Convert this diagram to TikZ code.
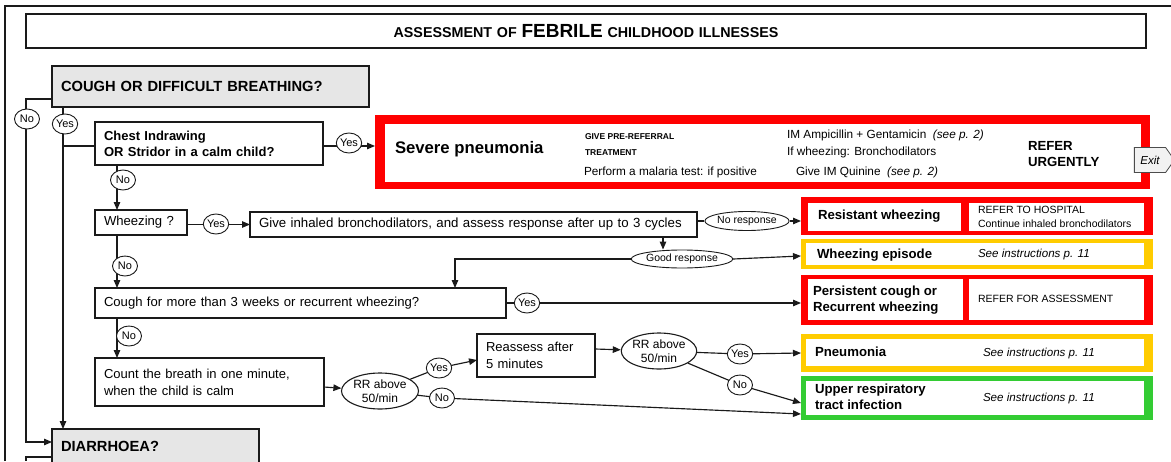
\documentclass[tikz,border=0pt]{standalone}
\usepackage{fontspec}
\setmainfont{Liberation Sans}
\usetikzlibrary{shapes.geometric,shapes.symbols,arrows.meta}
\definecolor{ln}{HTML}{1A1A1A}
\definecolor{gbox}{HTML}{E6E6E6}
\definecolor{rd}{HTML}{FF0000}
\definecolor{yl}{HTML}{FFCC00}
\definecolor{grn}{HTML}{33CC33}
\begin{document}
\begin{tikzpicture}[x=1pt,y=-1pt,
  qbox/.style={draw=ln, line width=1.2pt, fill=white, anchor=north west, inner xsep=9pt, inner ysep=0pt, outer sep=0pt, align=left, font=\fontsize{13.1}{16.5}\selectfont},
  lab/.style={ellipse, draw=ln, line width=0.9pt, fill=white, inner sep=0pt, minimum width=25pt, minimum height=20pt, font=\fontsize{11}{11}\selectfont},
  oval/.style={ellipse, draw=ln, line width=1.1pt, fill=white, inner sep=0pt, align=center},
  con/.style={draw=ln, line width=1.15pt},
  arr/.style={con, -{Triangle[length=8pt,width=6.5pt]}},
  plain/.style={inner sep=0pt, outer sep=0pt, anchor=west, align=left},
  panel/.style={anchor=north west, inner sep=0pt, outer sep=0pt},
  bigt/.style={font=\fontsize{13.2}{15.5}\bfseries},
  smt/.style={font=\fontsize{10.5}{14}\selectfont},
  seet/.style={font=\fontsize{11.6}{12}\itshape},
]
\useasboundingbox (0,0) rectangle (1171,461);
% outer frame
\draw[line width=2.2pt, ln] (5,461) -- (5,6) -- (1171,6);

% title
\node[qbox, align=center, text width=1102pt, minimum height=34pt, font=\fontsize{14.3}{16}\bfseries] (title) at (26,14)
  {ASSESSMENT OF {\fontsize{19}{19}\selectfont FEBRILE} CHILDHOOD ILLNESSES};

% question boxes
\node[qbox, fill=gbox, text width=299pt, minimum height=41pt, font=\fontsize{14.7}{16}\bfseries] (cough) at (52,66) {COUGH OR DIFFICULT BREATHING?};
\node[qbox, text width=210pt, minimum height=43pt, font=\fontsize{13}{16}\bfseries] (chest) at (95,122) {Chest Indrawing\\OR Stridor in a calm child?};
\node[qbox, text width=74pt, minimum height=25pt] (wheez) at (95,210) {Wheezing ?};
\node[qbox, text width=429pt, minimum height=25pt, font=\fontsize{13.25}{16}\selectfont] (give) at (250,212) {\mbox{Give inhaled bronchodilators, and assess response after up to 3 cycles}};
\node[qbox, text width=393pt, minimum height=30pt] (c3) at (95,288) {Cough for more than 3 weeks or recurrent wheezing?};
\node[qbox, text width=211pt, minimum height=48pt, font=\fontsize{13}{17}\selectfont] (count) at (95,358) {Count the breath in one minute,\\when the child is calm};
\node[qbox, text width=100pt, minimum height=43pt, font=\fontsize{13}{17}\selectfont] (reass) at (477,334) {Reassess after\\5 minutes};
\node[qbox, fill=gbox, text width=189pt, minimum height=34pt, font=\fontsize{14.7}{16}\bfseries] (diar) at (52,429) {DIARRHOEA?};

% ovals
\node[oval, minimum width=77pt, minimum height=36pt, font=\fontsize{12}{14}\selectfont] (rr1) at (380,391) {RR above\\50/min};
\node[oval, minimum width=72pt, minimum height=36pt, font=\fontsize{12}{14}\selectfont] (rr2) at (659,351) {RR above\\50/min};
\node[oval, line width=0.9pt, minimum width=70pt, minimum height=19pt, font=\fontsize{10.5}{11}\selectfont] (nr) at (747,221) {No response};
\node[oval, line width=0.9pt, minimum width=84pt, minimum height=18pt, font=\fontsize{10.5}{11}\selectfont] (gr) at (682,259) {Good response};

% severe pneumonia panel
\node[panel, fill=rd, minimum width=775pt, minimum height=74pt] (sev) at (375,115) {};
\node[panel, fill=white, minimum width=756pt, minimum height=58pt] (sevin) at (385,124) {};
\node[plain, font=\fontsize{16.7}{17}\bfseries] (sevt) at (395,149) {Severe pneumonia};
\node[plain, font=\fontsize{8.5}{9}\bfseries] (sev1) at (585,137) {GIVE PRE-REFERRAL};
\node[plain, font=\fontsize{8.5}{9}\bfseries] (sev2) at (585,153) {TREATMENT};
\node[plain, font=\fontsize{11.8}{12}\selectfont] (sev3) at (584,172) {Perform a malaria test: if positive};
\node[plain, font=\fontsize{11.8}{12}\selectfont] (sev4) at (787,135) {IM Ampicillin + Gentamicin\ \ \textit{(see p. 2)}};
\node[plain, font=\fontsize{11.8}{12}\selectfont] (sev5) at (787,152) {If wheezing: Bronchodilators};
\node[plain, font=\fontsize{11.8}{12}\selectfont] (sev6) at (796,172) {Give IM Quinine\ \ \textit{(see p. 2)}};
\node[plain, font=\fontsize{13.2}{16}\bfseries] (sev7) at (1028,154) {REFER\\URGENTLY};
\node[signal, signal to=east, signal pointer angle=110, draw=gray!60!black, fill=gray!10, line width=0.8pt, minimum width=40pt, minimum height=25pt, inner sep=2pt, font=\fontsize{11.5}{12}\itshape] (exit) at (1150,160) {Exit};

% outcome panels
\node[panel, fill=rd, minimum width=352pt, minimum height=38pt] (resist) at (801,197) {};
\node[panel, fill=white, minimum width=153pt, minimum height=28pt] (resistL) at (808,203) {};
\node[panel, fill=white, minimum width=175pt, minimum height=28pt] (resistR) at (969,203) {};
\node[plain, bigt] (t1) at (818,216) {Resistant wheezing};
\node[plain, smt] (t2) at (978,217) {REFER TO HOSPITAL\\Continue inhaled bronchodilators};

\node[panel, fill=yl, minimum width=352pt, minimum height=30pt] (wep) at (801,239) {};
\node[panel, fill=white, minimum width=338pt, minimum height=22pt] (wepin) at (806,243) {};
\node[plain, bigt] (t3) at (817,255) {Wheezing episode};
\node[plain, seet] (t4) at (978,254) {See instructions p. 11};

\node[panel, fill=rd, minimum width=352pt, minimum height=50pt] (pers) at (801,275) {};
\node[panel, fill=white, minimum width=155pt, minimum height=41pt] (persL) at (808,279) {};
\node[panel, fill=white, minimum width=175pt, minimum height=41pt] (persR) at (969,279) {};
\node[plain, bigt] (t5) at (813,300) {Persistent cough or\\Recurrent wheezing};
\node[plain, smt] (t6) at (978,299) {REFER FOR ASSESSMENT};

\node[panel, fill=yl, minimum width=352pt, minimum height=38pt] (pneu) at (801,334) {};
\node[panel, fill=white, minimum width=338pt, minimum height=27pt] (pneuin) at (806,339) {};
\node[plain, bigt] (t7) at (815,352) {Pneumonia};
\node[plain, seet] (t8) at (983,353) {See instructions p. 11};

\node[panel, fill=grn, minimum width=352pt, minimum height=44pt] (upper) at (801,376) {};
\node[panel, fill=white, minimum width=338pt, minimum height=34pt] (upperin) at (806,381) {};
\node[plain, bigt] (t9) at (815,397) {Upper respiratory\\tract infection};
\node[plain, seet] (t10) at (983,398) {See instructions p. 11};

% connectors
\draw[con] (cough.west |- 0,99) -| (26,119) coordinate (k1);
\draw[arr] (k1) |- (diar.west |- 0,442);
\draw[arr] (cough.south -| 63,0) -- (diar.north -| 63,0);
\draw[con] (cough.south -| 63,0) |- (chest.west |- 0,146);
\draw[arr] (chest.east |- 0,146) -- (sev.west |- 0,146);
\draw[arr] (chest.south -| 117,0) -- (wheez.north -| 117,0);
\draw[arr] (wheez.east |- give.west) -- (give.west);
\draw[arr] (give.east |- 0,221) -- (nr) -- (resist.west |- 0,221);
\draw[arr] (give.south -| 663,0) -- (gr.north -| 663,0);
\draw[arr] (gr.east) -- (wep.west |- 0,256);
\draw[arr] (gr.west) -| (c3.north -| 455,0);
\draw[arr] (wheez.south -| 117,0) -- (c3.north -| 117,0);
\draw[arr] (c3.east |- 0,303) -- (pers.west |- 0,303);
\draw[arr] (c3.south -| 117,0) -- (count.north -| 117,0);
\draw[arr] (count.east |- 0,387) -- (rr1);
\draw[arr] (rr1) -- (439,368) -- (reass.west |- 0,360);
\draw[arr] (rr1) -- (442,398) -- (upper.west |- 0,414);
\draw[arr] (reass.east |- 0,349) -- (rr2);
\draw[arr] (rr2) -- (740,354) -- (pneu.west |- 0,353);
\draw[arr] (rr2) -- (740,385) -- (upper.west |- 0,403);
\draw[con] (diar.west |- 0,457) -- (26,457) -- (26,461);

% yes / no labels
\node[lab] (n1) at (27,119) {No};
\node[lab] (y1) at (65,124) {Yes};
\node[lab] (y2) at (349,143) {Yes};
\node[lab] (n2) at (123,180) {No};
\node[lab] (y3) at (216,224) {Yes};
\node[lab] (n3) at (125,266) {No};
\node[lab] (y4) at (527,303) {Yes};
\node[lab] (n4) at (129,336) {No};
\node[lab] (y5) at (439,368) {Yes};
\node[lab] (n5) at (442,398) {No};
\node[lab] (y6) at (740,354) {Yes};
\node[lab] (n6) at (740,385) {No};
\end{tikzpicture}
\end{document}
